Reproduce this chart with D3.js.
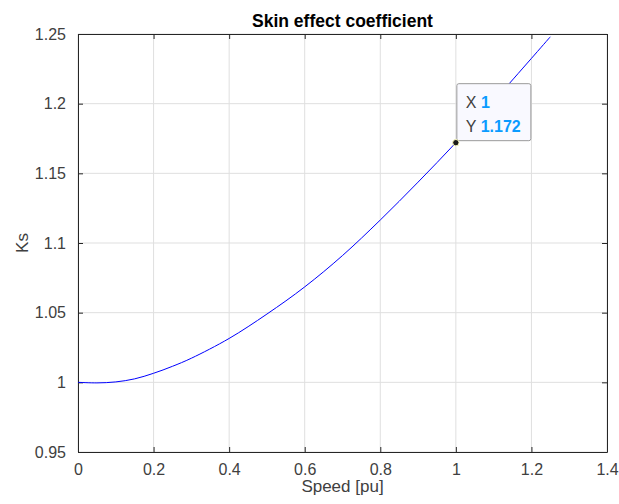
<!DOCTYPE html>
<html>
<head>
<meta charset="utf-8">
<script src="https://cdn.jsdelivr.net/npm/d3@7"></script>
<style>
  body { margin: 0; background: #fff; }
  text { font-family: "Liberation Sans", Arial, sans-serif; }
</style>
</head>
<body>
<svg id="chart"></svg>
<script>
// Values
var speed = [0, 0.05, 0.1, 0.15, 0.2, 0.25, 0.3, 0.4, 0.5, 0.6, 0.7, 0.8, 0.9, 1.0, 1.1, 1.2, 1.25];
var ks    = [1.0000, 0.9996, 1.0003, 1.0025, 1.0065, 1.0115, 1.0173, 1.0315, 1.0490, 1.0685,
             1.0910, 1.1165, 1.1437, 1.1720, 1.2018, 1.2325, 1.2480];
var xTicks = [0, 0.2, 0.4, 0.6, 0.8, 1, 1.2, 1.4];
var yTicks = [0.95, 1, 1.05, 1.1, 1.15, 1.2, 1.25];
var tipX = 1, tipY = 1.172;

var width = 619, height = 504;
var margin = {top: 34, right: 12, bottom: 52, left: 78};

var svg = d3.select("#chart")
            .attr("width", width)
            .attr("height", height);

var x = d3.scaleLinear().domain([0, 1.4]).range([margin.left, width - margin.right]);
var y = d3.scaleLinear().domain([0.95, 1.25]).range([height - margin.bottom, margin.top]);

var axisColor = "#262626";

// Grid lines
svg.append("g").selectAll("line").data(xTicks).enter().append("line")
   .attr("x1", d => x(d)).attr("x2", d => x(d))
   .attr("y1", y.range()[1]).attr("y2", y.range()[0])
   .attr("stroke", "#dfdfdf").attr("stroke-width", 1);
svg.append("g").selectAll("line").data(yTicks).enter().append("line")
   .attr("x1", x.range()[0]).attr("x2", x.range()[1])
   .attr("y1", d => y(d)).attr("y2", d => y(d))
   .attr("stroke", "#dfdfdf").attr("stroke-width", 1);

// Axes (ticks point inward, on all four sides)
function styleAxis(g) {
    g.select(".domain").attr("stroke", axisColor);
    g.selectAll(".tick line").attr("stroke", axisColor);
    g.selectAll(".tick text").attr("fill", "#404040").attr("font-size", "16px")
     .style("font-family", "'Liberation Sans', Arial, sans-serif");
}

svg.append("g")
   .attr("transform", "translate(0," + y.range()[0] + ")")
   .call(d3.axisBottom(x).tickValues(xTicks).tickSizeInner(-5).tickSizeOuter(0).tickPadding(12).tickFormat(d3.format("~g")))
   .call(styleAxis);
svg.append("g")
   .attr("transform", "translate(0," + y.range()[1] + ")")
   .call(d3.axisTop(x).tickValues(xTicks).tickSizeInner(-5).tickSizeOuter(0).tickFormat(""))
   .call(styleAxis);
svg.append("g")
   .attr("transform", "translate(" + x.range()[0] + ",0)")
   .call(d3.axisLeft(y).tickValues(yTicks).tickSizeInner(-5).tickSizeOuter(0).tickPadding(12).tickFormat(d3.format("~g")))
   .call(styleAxis);
svg.append("g")
   .attr("transform", "translate(" + x.range()[1] + ",0)")
   .call(d3.axisRight(y).tickValues(yTicks).tickSizeInner(-5).tickSizeOuter(0).tickFormat(""))
   .call(styleAxis);

// Curve
var pts = speed.map((s, i) => [s, ks[i]]);
svg.append("path")
   .datum(pts)
   .attr("fill", "none")
   .attr("stroke", "#0000ff")
   .attr("stroke-width", 1)
   .attr("d", d3.line().x(d => x(d[0])).y(d => y(d[1])).curve(d3.curveCatmullRom));

// Title and labels
svg.append("text")
   .attr("x", (x.range()[0] + x.range()[1]) / 2)
   .attr("y", 27)
   .attr("text-anchor", "middle")
   .attr("font-size", "17.5px")
   .attr("font-weight", "bold")
   .attr("fill", "#000")
   .text("Skin effect coefficient");

svg.append("text")
   .attr("x", (x.range()[0] + x.range()[1]) / 2)
   .attr("y", 492)
   .attr("text-anchor", "middle")
   .attr("font-size", "17px")
   .attr("fill", "#404040")
   .text("Speed [pu]");

svg.append("text")
   .attr("transform", "translate(28," + ((y.range()[0] + y.range()[1]) / 2) + ") rotate(-90)")
   .attr("text-anchor", "middle")
   .attr("font-size", "17px")
   .attr("fill", "#404040")
   .text("Ks");

// Data tip
var tx = x(tipX), ty = y(tipY);
var tip = svg.append("g");
tip.append("rect")
   .attr("x", tx + 1).attr("y", ty - 59)
   .attr("width", 74).attr("height", 57)
   .attr("rx", 2)
   .attr("fill", "#f9f9ff")
   .attr("stroke", "#9a9a9a");
var lines = [["X", d3.format("~g")(tipX)], ["Y", d3.format(".3f")(tipY)]];
lines.forEach(function(l, i) {
    var t = tip.append("text")
       .attr("x", tx + 10)
       .attr("y", ty - 35 + i * 24)
       .attr("font-size", "16px");
    t.append("tspan").attr("fill", "#404040").text(l[0] + " ");
    t.append("tspan").attr("fill", "#0a9bff").attr("font-weight", "bold").text(l[1]);
});
tip.append("circle")
   .attr("cx", tx).attr("cy", ty).attr("r", 3.2)
   .attr("fill", "#1a1a1a")
   .attr("stroke", "#ffffc8")
   .attr("stroke-width", 1);
</script>
</body>
</html>
